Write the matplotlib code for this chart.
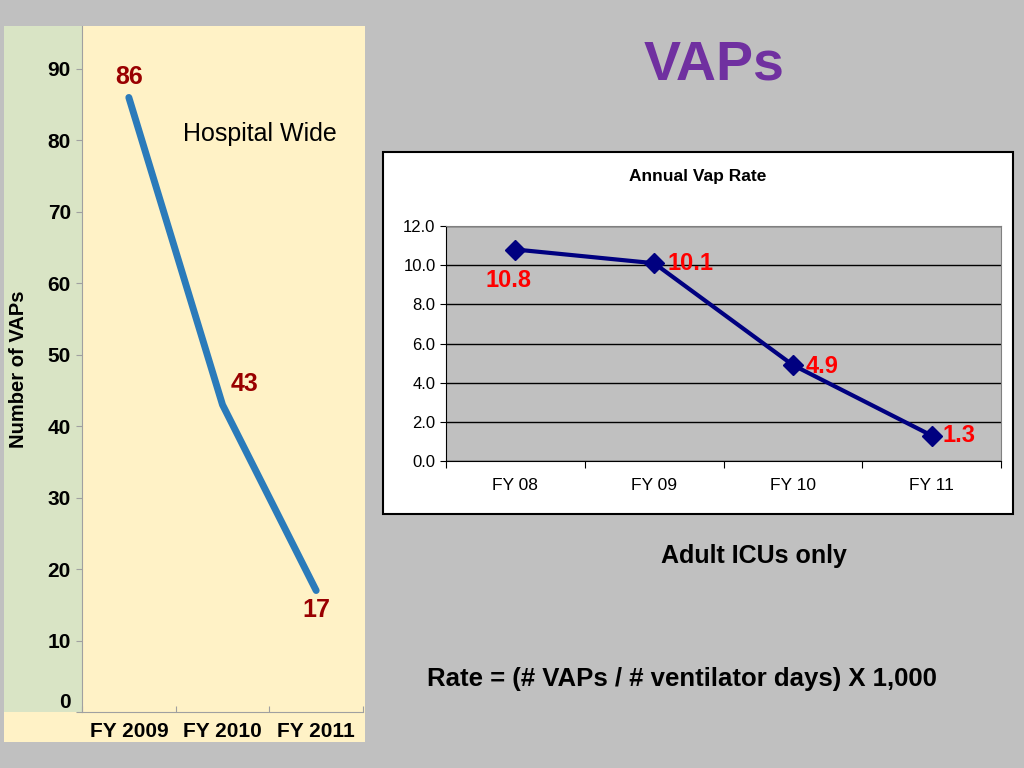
import numpy as np
from matplotlib import pyplot as plt
from matplotlib.patches import Rectangle
from matplotlib.ticker import FormatStrFormatter
import matplotlib.transforms as mtransforms

plt.rcParams['font.family'] = ['Liberation Sans', 'DejaVu Sans']

# hospital wide counts
hw_years = ['FY 2009', 'FY 2010', 'FY 2011']
hw_vaps = [86, 43, 17]

# adult ICU rate
icu_years = ['FY 08', 'FY 09', 'FY 10', 'FY 11']
icu_rate = [10.8, 10.1, 4.9, 1.3]

W, H = 1024, 768
fig = plt.figure(figsize=(10.24, 7.68), dpi=100)
fig.patch.set_facecolor('#c0c0c0')


def box(x0, y0, x1, y1):
    # pixel box (top-left origin) -> figure fraction rect
    return [x0 / W, 1 - y1 / H, (x1 - x0) / W, (y1 - y0) / H]


def rect(x0, y0, x1, y1, **kw):
    l, b, w, h = box(x0, y0, x1, y1)
    fig.patches.append(Rectangle((l, b), w, h, transform=fig.transFigure, zorder=-5, **kw))


# left panel background
green = '#d9e4c5'
yellow = '#fff2c6'
rect(4, 26, 82, 712, facecolor=green, edgecolor='none')
rect(4, 712, 365, 742, facecolor=yellow, edgecolor='none')
rect(82, 26, 365, 712, facecolor=yellow, edgecolor='none')

ax1 = fig.add_axes(box(82, 26, 363, 712))
ax1.set_facecolor(yellow)
x1 = np.arange(len(hw_years)) + 0.5
ax1.plot(x1, hw_vaps, color='#2b7bba', lw=5, solid_capstyle='round')
hw_offsets = [(0, 15), (16, 15), (0, -14)]
for x, v, off in zip(x1, hw_vaps, hw_offsets):
    ax1.annotate(str(v), (x, v), xytext=off, textcoords='offset points',
                 ha='center', va='center', color='#990000', fontsize=18, fontweight='bold')
ax1.set_xlim(0, 3)
ax1.set_ylim(0, 96)
ax1.set_yticks(np.arange(0, 100, 10))
ax1.set_xticks([0, 1, 2, 3])
ax1.set_xticklabels([])
ax1.set_xticks(x1, minor=True)
ax1.set_xticklabels(hw_years, minor=True, fontsize=15, fontweight='bold')
ax1.tick_params(axis='x', which='minor', length=0, pad=7)
ax1.tick_params(axis='x', which='major', length=4, color='#a0a0a0', direction='in')
ax1.tick_params(axis='y', length=4, color='#a0a0a0', pad=4)
for label in ax1.get_yticklabels():
    label.set_fontsize(15)
    label.set_fontweight('bold')
# the zero label sits a bit above the axis line
zero = ax1.get_yticklabels()[0]
zero.set_transform(zero.get_transform() + mtransforms.ScaledTranslation(0, 0.11, fig.dpi_scale_trans))
ax1.spines['top'].set_visible(False)
ax1.spines['right'].set_visible(False)
ax1.spines['left'].set_color('#a0a0a0')
ax1.spines['bottom'].set_color('#a0a0a0')
ax1.set_ylabel('Number of VAPs', fontsize=14.5, fontweight='bold', labelpad=14)
ax1.text(0.633, 0.842, 'Hospital Wide', transform=ax1.transAxes, fontsize=18, ha='center', va='center')

# right side texts
fig.text(714 / W, 1 - 66 / H, 'VAPs', color='#7030a0', fontsize=40, fontweight='bold', ha='center', va='center')
fig.text(754 / W, 1 - 556 / H, 'Adult ICUs only', fontsize=18, fontweight='bold', ha='center', va='center')
fig.text(682 / W, 1 - 679 / H, 'Rate = (# VAPs / # ventilator days) X 1,000', fontsize=18.5,
         fontweight='bold', ha='center', va='center')

# inner chart frame
rect(383, 152, 1013, 514, facecolor='white', edgecolor='black', lw=1.5)
fig.text(698 / W, 1 - 176 / H, 'Annual Vap Rate', fontsize=12.5, fontweight='bold', ha='center', va='center')

ax2 = fig.add_axes(box(446, 226, 1001, 461))
ax2.set_facecolor('#c0c0c0')
x2 = np.arange(len(icu_years)) + 0.5
ax2.plot(x2, icu_rate, color='#000080', lw=3, marker='D', markersize=10, zorder=3)
offsets = [(-5, -22), (26, 0), (21, -1), (20, 0)]
for x, v, off in zip(x2, icu_rate, offsets):
    ax2.annotate('%.1f' % v, (x, v), xytext=off, textcoords='offset points',
                 ha='center', va='center', color='#ff0000', fontsize=17, fontweight='bold', zorder=4)
ax2.set_xlim(0, 4)
ax2.set_ylim(0, 12)
ax2.set_yticks(np.arange(0, 13, 2))
ax2.yaxis.set_major_formatter(FormatStrFormatter('%.1f'))
ax2.grid(axis='y', color='black', lw=1)
ax2.set_axisbelow(True)
ax2.set_xticks([0, 1, 2, 3, 4])
ax2.set_xticklabels([])
ax2.set_xticks(x2, minor=True)
ax2.set_xticklabels(icu_years, minor=True, fontsize=12.5)
ax2.tick_params(axis='x', which='minor', length=0, pad=12)
ax2.tick_params(axis='x', which='major', length=5)
ax2.tick_params(axis='y', length=4, labelsize=12)
ax2.spines['top'].set_color('#808080')
ax2.spines['right'].set_color('#808080')

fig.savefig('out.png', dpi=100, facecolor=fig.get_facecolor())
